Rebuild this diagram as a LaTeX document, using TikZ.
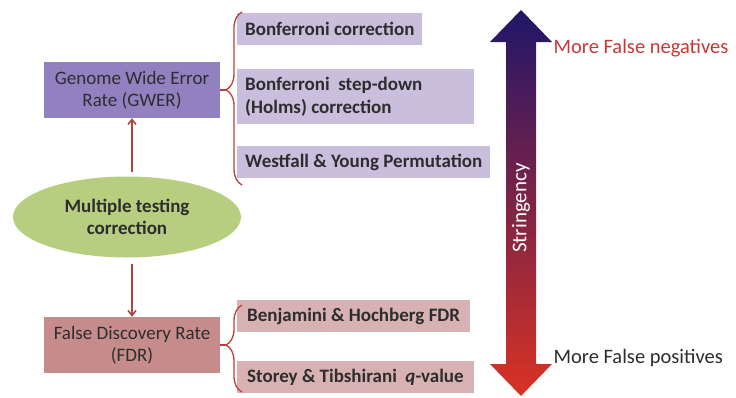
\documentclass[tikz,border=0pt]{standalone}
\usepackage{fontspec}
\setmainfont{Carlito}
\usetikzlibrary{shapes.geometric,decorations.pathreplacing,arrows.meta}

\definecolor{gwerfill}{RGB}{146,129,193}
\definecolor{gweritem}{RGB}{201,191,221}
\definecolor{fdrfill}{RGB}{198,140,140}
\definecolor{fdritem}{RGB}{216,178,178}
\definecolor{corrfill}{RGB}{183,206,128}
\definecolor{linkred}{RGB}{168,72,62}
\definecolor{bracered}{RGB}{190,62,56}
\definecolor{negred}{RGB}{200,56,54}
\definecolor{txtgray}{RGB}{45,45,45}
\definecolor{arrtop}{RGB}{32,22,104}
\definecolor{arrmid}{RGB}{118,28,124}
\definecolor{arrbot}{RGB}{218,50,36}

\tikzset{
  bigtxt/.style={font=\fontsize{19}{22.5}\selectfont, text=txtgray},
  ratebox/.style={bigtxt, minimum width=176pt, minimum height=56pt, align=center, inner sep=0pt},
  itembox/.style={bigtxt, font=\fontsize{19}{22.5}\selectfont\bfseries, anchor=north west,
    inner xsep=8pt, inner ysep=0pt, minimum height=32pt, align=flush left},
  link/.style={linkred, line width=1.6pt, -{Straight Barb[length=5pt,width=8pt]}},
  bracket/.style={bracered, line width=1.3pt, decorate},
  sidetxt/.style={font=\fontsize{20.5}{24}\selectfont, anchor=west}
}

\begin{document}
\begin{tikzpicture}[x=1pt,y=-1pt]
  \useasboundingbox (0,0) rectangle (736,397);

  % Noeud central et taux d'erreur
  \node[ellipse, fill=corrfill, minimum width=228pt, minimum height=81pt, inner sep=0pt,
        bigtxt, font=\fontsize{19}{22.5}\selectfont\bfseries, align=center]
        (corr) at (127,217) {Multiple testing\\correction};
  \node[ratebox, fill=gwerfill] (gwer) at (132,90) {Genome Wide Error\\Rate (GWER)};
  \node[ratebox, fill=fdrfill] (fdr) at (132,345) {False Discovery Rate\\(FDR)};

  \draw[link] (corr.north -| gwer.south) ++(0,-4) coordinate (cup) (cup) -- (gwer.south);
  \draw[link] (corr.south -| fdr.north) ++(0,6) coordinate (cdown) (cdown) -- (fdr.north);

  % Methodes GWER
  \node[itembox, fill=gweritem] (bonf) at (237,13) {Bonferroni correction};
  \node[itembox, fill=gweritem, minimum height=55pt, text width=221pt] (holm) at (237,69)
        {Bonferroni\ \ step-down\\(Holms) correction};
  \node[itembox, fill=gweritem] (westf) at (237,146) {Westfall \& Young Permutation};

  % Methodes FDR
  \node[itembox, fill=fdritem, inner xsep=10pt] (bh) at (237,300) {Benjamini \& Hochberg FDR};
  \node[itembox, fill=fdritem, inner xsep=10pt] (storey) at (237,361)
        {Storey \& Tibshirani\ \ \textit{q}-value};

  % Accolades
  \draw[bracket, decoration={brace, amplitude=16pt, aspect=0.55}] (242,185) -- (242,12);
  \coordinate (gtip) at (226,90);
  \draw[bracered, line width=1.3pt] (gwer.east) -- (gtip);
  \draw[bracket, decoration={brace, amplitude=16pt, aspect=0.54}] (242,392) -- (242,305);
  \coordinate (ftip) at (226,345);
  \draw[bracered, line width=1.3pt] (fdr.east) -- (ftip);

  % Fleche de stringence
  \shade[top color=arrtop, middle color=arrmid, bottom color=arrbot]
    (521,10) -- (552,42) -- (536,42) -- (536,364) -- (552,364) -- (521,396)
    -- (490,364) -- (506,364) -- (506,42) -- (490,42) -- cycle;
  \node[rotate=90, text=white, font=\fontsize{21}{24}\selectfont] (string) at (521,208) {Stringency};

  \node[sidetxt, text=negred] (neg) at (550,48) {More False negatives};
  \node[sidetxt, text=txtgray] (pos) at (550,358) {More False positives};
\end{tikzpicture}
\end{document}
